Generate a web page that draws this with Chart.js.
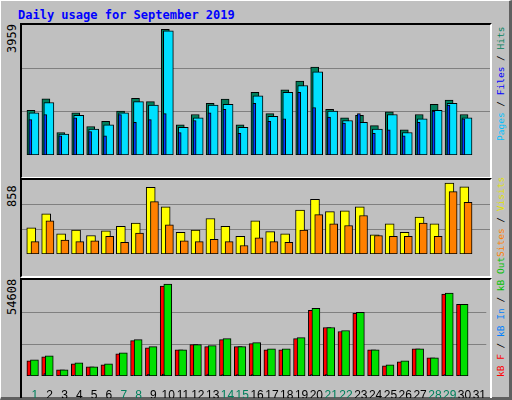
<!DOCTYPE html>
<html>
<head>
<meta charset="utf-8">
<script src="https://cdn.jsdelivr.net/npm/chart.js@4"></script>
<style>
body { margin: 0; background: #fff; }
#frame { position: absolute; left: 0; top: 0; width: 508px; height: 396px; background: #c0c0c0;
  border-left: 1px solid #fff; border-top: 1px solid #fff; border-right: 3px solid #606060; border-bottom: 3px solid #606060; }
.panel { position: absolute; left: 20px; border-top: 2px solid #000; border-left: 2px solid #000; border-right: 2px solid #fff; border-bottom: 2px solid #fff; }
canvas { display: block; }
.lbl { position: absolute; font-family: 'DejaVu Sans Mono', monospace; font-size: 12px; white-space: nowrap; transform-origin: left top; transform: rotate(-90deg); }
.leg { font-size: 9.5px; }
#title { position: absolute; left: 18px; top: 8px; font: bold 12px 'DejaVu Sans Mono', monospace; color: #0000ff; }
</style>
</head>
<body>
<div id="frame"></div>
<div id="title">Daily usage for September 2019</div>
<div class="panel" style="top:23px;"><canvas id="c1" width="468" height="152"></canvas></div>
<div class="panel" style="top:178px;"><canvas id="c2" width="468" height="96"></canvas></div>
<div class="panel" style="top:278px; border-bottom:none;"><canvas id="c3" width="468" height="118"></canvas></div>
<div class="lbl" style="left:5px; top:53px;">3959</div>
<div class="lbl" style="left:5px; top:207px;">858</div>
<div class="lbl" style="left:5px; top:315px;">54608</div>
<div class="lbl leg" style="left:495px; top:141px;"><span style="color:#00c0ff">Pages</span> / <span style="color:#0000ff">Files</span> / <span style="color:#00805c">Hits</span></div>
<div class="lbl leg" style="left:495px; top:257px;"><span style="color:#ff8000">Sites</span> / <span style="color:#e0e000">Visits</span></div>
<div class="lbl leg" style="left:495px; top:377px;"><span style="color:#ff0000">kB F</span> / <span style="color:#0080ff">kB In</span> / <span style="color:#00c000">kB Out</span></div>
<script>
const days = [1,2,3,4,5,6,7,8,9,10,11,12,13,14,15,16,17,18,19,20,21,22,23,24,25,26,27,28,29,30];
const weekendDays = [1,7,8,14,15,21,22,28,29];
const hits  = [1409,1768,709,1329,898,1059,1382,1786,1679,3959,951,1275,1625,1759,951,1975,1302,2056,2325,2765,1436,1167,1248,925,1356,790,1275,1598,1733,1275];
const files = [1329,1652,655,1248,817,952,1329,1679,1571,3914,871,1167,1571,1598,871,1867,1221,1975,2190,2621,1382,1086,1032,817,1275,709,1140,1409,1625,1167];
const pages = [1113,1275,601,1167,736,601,1275,1032,1113,1302,709,1086,1329,1436,682,1625,1059,1140,1975,1490,1194,1005,1302,682,790,601,1032,1382,1571,1140];
const visits = [317,485,243,289,224,280,336,373,805,569,261,289,429,336,215,401,270,243,532,662,513,522,569,233,364,261,448,364,858,811];
const sites  = [149,401,168,149,159,215,140,252,634,354,159,149,177,149,103,196,149,140,289,476,364,345,466,224,215,215,373,215,755,625];
const kbF   = [9000,11400,3600,7200,5400,6600,13200,21000,16800,53400,15600,18600,17400,21600,17400,19200,15600,15600,22200,39000,28800,26400,37200,15600,6000,8400,16200,10800,48600,42600];
const kbOut = [9600,12000,3600,7800,5400,7200,13800,21600,17400,54608,15600,18600,18000,22200,17400,19800,16200,16200,22800,40200,28800,27000,37800,15600,6600,9000,16200,10800,49200,42600];
const kbIn  = [400,1500,300,400,300,300,400,400,1000,1200,300,400,1200,900,900,900,400,400,400,800,800,300,300,300,200,200,300,300,800,300];
const dayLabels = ['1','2','3','4','5','6','7','8','9','10','11','12','13','14','15','16','17','18','19','20','21','22','23','24','25','26','27','28','29','30','31'];

function series(vals, shift) {
    return vals.map((v, i) => ({ x: days[i] + shift, y: v }));
}

// lower order is drawn on top
function bar(vals, shift, color, width, order) {
    return { data: series(vals, shift), backgroundColor: color, borderColor: '#000', borderWidth: 1,
             barThickness: width, grouped: false, borderSkipped: false, order: order };
}

function makeChart(id, datasets, ymax, showDays) {
    new Chart(document.getElementById(id), {
        type: 'bar',
        data: { datasets: datasets },
        options: {
            responsive: false, animation: false,
            layout: { padding: 0 },
            plugins: { legend: { display: false }, tooltip: { enabled: false } },
            scales: {
                x: {
                    type: 'linear', min: 0.13, max: 31.47, offset: false,
                    display: showDays,
                    grid: { display: false }, border: { display: false },
                    afterBuildTicks: s => { s.ticks = dayLabels.map(d => ({ value: +d })); },
                    afterFit: s => { s.height = 22; },
                    ticks: {
                        autoSkip: false, maxRotation: 0, padding: 4,
                        font: { family: 'Liberation Sans', size: 12 },
                        color: c => weekendDays.includes(c.tick.value) ? '#00805c' : '#000',
                        callback: v => String(v)
                    }
                },
                y: {
                    min: 0, max: ymax,
                    afterBuildTicks: s => { s.ticks = [{ value: ymax / 3 }, { value: ymax * 2 / 3 }]; },
                    ticks: { display: false },
                    border: { display: false },
                    grid: { color: '#808080', lineWidth: 1, drawTicks: false }
                }
            }
        }
    });
}

makeChart('c1', [
    bar(hits, -0.27, '#00805c', 8, 3),
    bar(files, -0.07, '#00e0ff', 10, 2),
    bar(pages, -0.31, '#0040ff', 3, 1)
], 4094, false);

makeChart('c2', [
    bar(visits, -0.25, '#ffff00', 9, 2),
    bar(sites, 0, '#ff8000', 8, 1)
], 895, false);

makeChart('c3', [
    bar(kbF, -0.27, '#ff0000', 8, 3),
    bar(kbOut, -0.03, '#00e000', 8, 2),
    bar(kbIn, -0.33, '#0080ff', 2, 1)
], 57000, true);
</script>
</body>
</html>
